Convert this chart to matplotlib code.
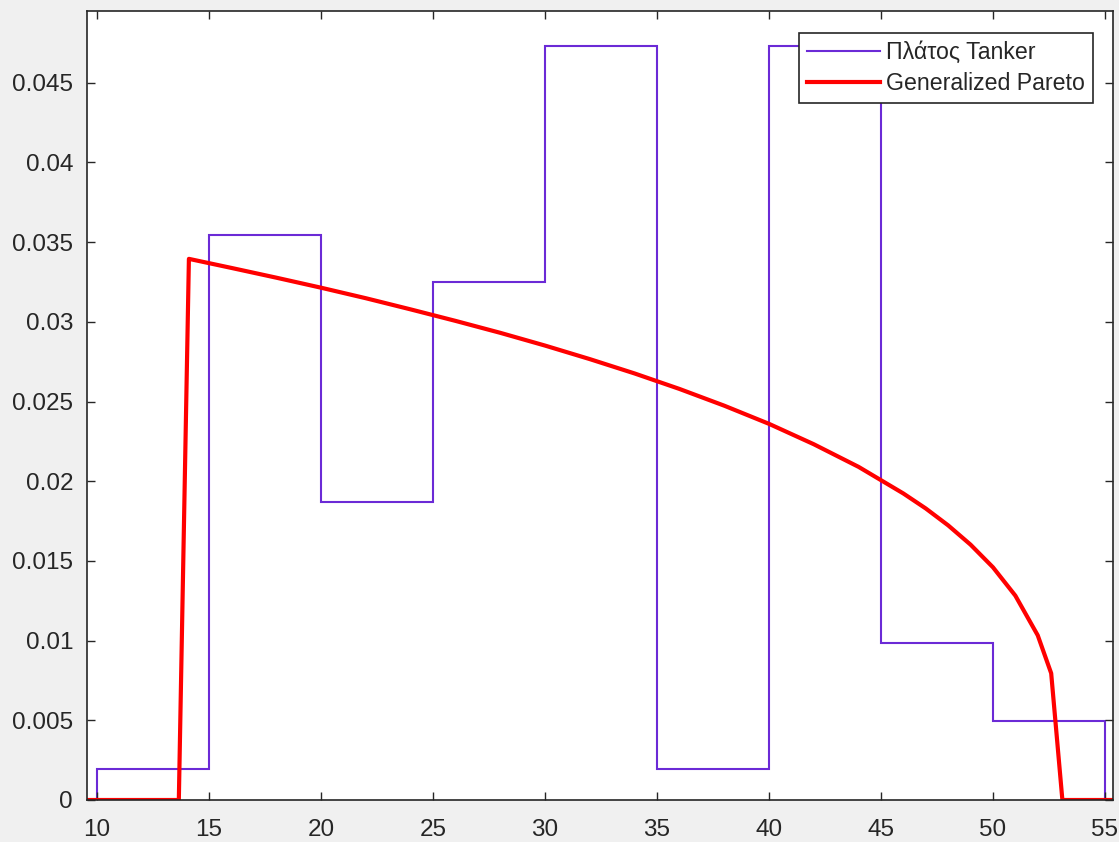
import matplotlib.pyplot as plt
import numpy as np

# histogram (stairs), bin edges and densities
bordas = [10, 15, 20, 25, 30, 35, 40, 45, 50, 55]
alturas = [0.00197, 0.03547, 0.01872, 0.03251, 0.04729, 0.00197, 0.04729, 0.00985, 0.00493]

# red curve (Generalized Pareto pdf)
x_gp = [9.55, 13.65, 14.1, 16, 18, 20, 22, 24, 26, 28, 30, 32, 34, 36, 38, 40,
        42, 44, 46, 47, 48, 49, 50, 51, 52, 52.6, 53.1, 55.36]
y_gp = [0, 0, 0.03395, 0.03338, 0.03277, 0.03214, 0.03148, 0.03078, 0.03006,
        0.02931, 0.02851, 0.02766, 0.02676, 0.02579, 0.02474, 0.02360, 0.02232,
        0.02090, 0.01923, 0.01829, 0.01723, 0.01602, 0.01460, 0.01282, 0.01033,
        0.00795, 0, 0]

xticks = [10, 15, 20, 25, 30, 35, 40, 45, 50, 55]
yticks = [0, 0.005, 0.01, 0.015, 0.02, 0.025, 0.03, 0.035, 0.04, 0.045]
ylabels = ['0', '0.005', '0.01', '0.015', '0.02', '0.025', '0.03', '0.035', '0.04', '0.045']

plt.rcParams['font.family'] = ['Liberation Sans', 'DejaVu Sans']
cinza = '#262626'

fig = plt.figure(figsize=(11.19, 8.42), dpi=100, facecolor='#f0f0f0')
ax = fig.add_axes([87/1119, 42/842, (1113-87)/1119, (800-11)/842])

ax.stairs(alturas, bordas, color='#6b2ad6', linewidth=1.5, label='Πλάτος Tanker')
ax.plot(x_gp, y_gp, color='#ff0000', linewidth=3, label='Generalized Pareto')

ax.set_xlim(9.55, 55.36)
ax.set_ylim(0, 0.0495)
ax.set_xticks(xticks)
ax.set_yticks(yticks)
ax.set_yticklabels(ylabels)
ax.tick_params(direction='in', length=6, width=1, colors=cinza, labelsize=17.5,
               top=True, right=True)
ax.tick_params(axis='y', pad=10)
ax.tick_params(axis='x', pad=14)
for s in ax.spines.values():
    s.set_color(cinza)
    s.set_linewidth(1.2)

leg = ax.legend(loc='upper right', bbox_to_anchor=(1 - 20/1026, 1 - 22/789),
                fontsize=16.7, fancybox=False, framealpha=1, edgecolor=cinza,
                handlelength=3.15, handletextpad=0.27, borderpad=0.33,
                labelspacing=0.38, borderaxespad=0)
leg.get_frame().set_linewidth(1.2)
for t in leg.get_texts():
    t.set_color(cinza)

fig.savefig('out.png', dpi=100, facecolor=fig.get_facecolor())
